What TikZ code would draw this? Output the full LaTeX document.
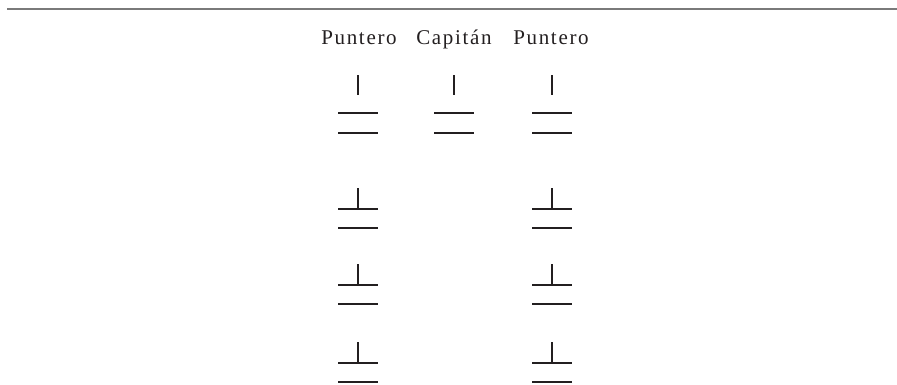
\documentclass[tikz,border=0pt]{standalone}
\usepackage{fontspec}
\setmainfont{Liberation Serif}[LetterSpace=8]
\definecolor{ink}{HTML}{231F20}
\definecolor{rulegray}{HTML}{7A7A7A}
\begin{document}
\begin{tikzpicture}[x=1pt,y=-1pt,
  lbl/.style={anchor=base,inner sep=0pt,text=ink,font=\fontsize{21}{25}\selectfont},
  sym/.style={draw=ink,line width=2.5pt},
  opensym/.pic={
    \draw[sym] (0,-38) -- (0,-18);
    \draw[sym] (-20,0) -- (20,0);
    \draw[sym] (-20,20) -- (20,20);
  },
  closedsym/.pic={
    \draw[sym] (0,-21) -- (0,0);
    \draw[sym] (-20,0) -- (20,0);
    \draw[sym] (-20,19) -- (20,19);
  }]
\useasboundingbox (0,0) rectangle (897,384);
\draw[rulegray,line width=1.3pt] (7,9) -- (897,9);
\node[lbl] (p1) at (359,44) {Puntero};
\node[lbl] (cap) at (454,44) {Capitán};
\node[lbl] (p2) at (551,44) {Puntero};
\pic at (358,113) {opensym};
\pic at (454,113) {opensym};
\pic at (552,113) {opensym};
\foreach \y in {209,285,363}{
  \pic at (358,\y) {closedsym};
  \pic at (552,\y) {closedsym};
}
\end{tikzpicture}
\end{document}
